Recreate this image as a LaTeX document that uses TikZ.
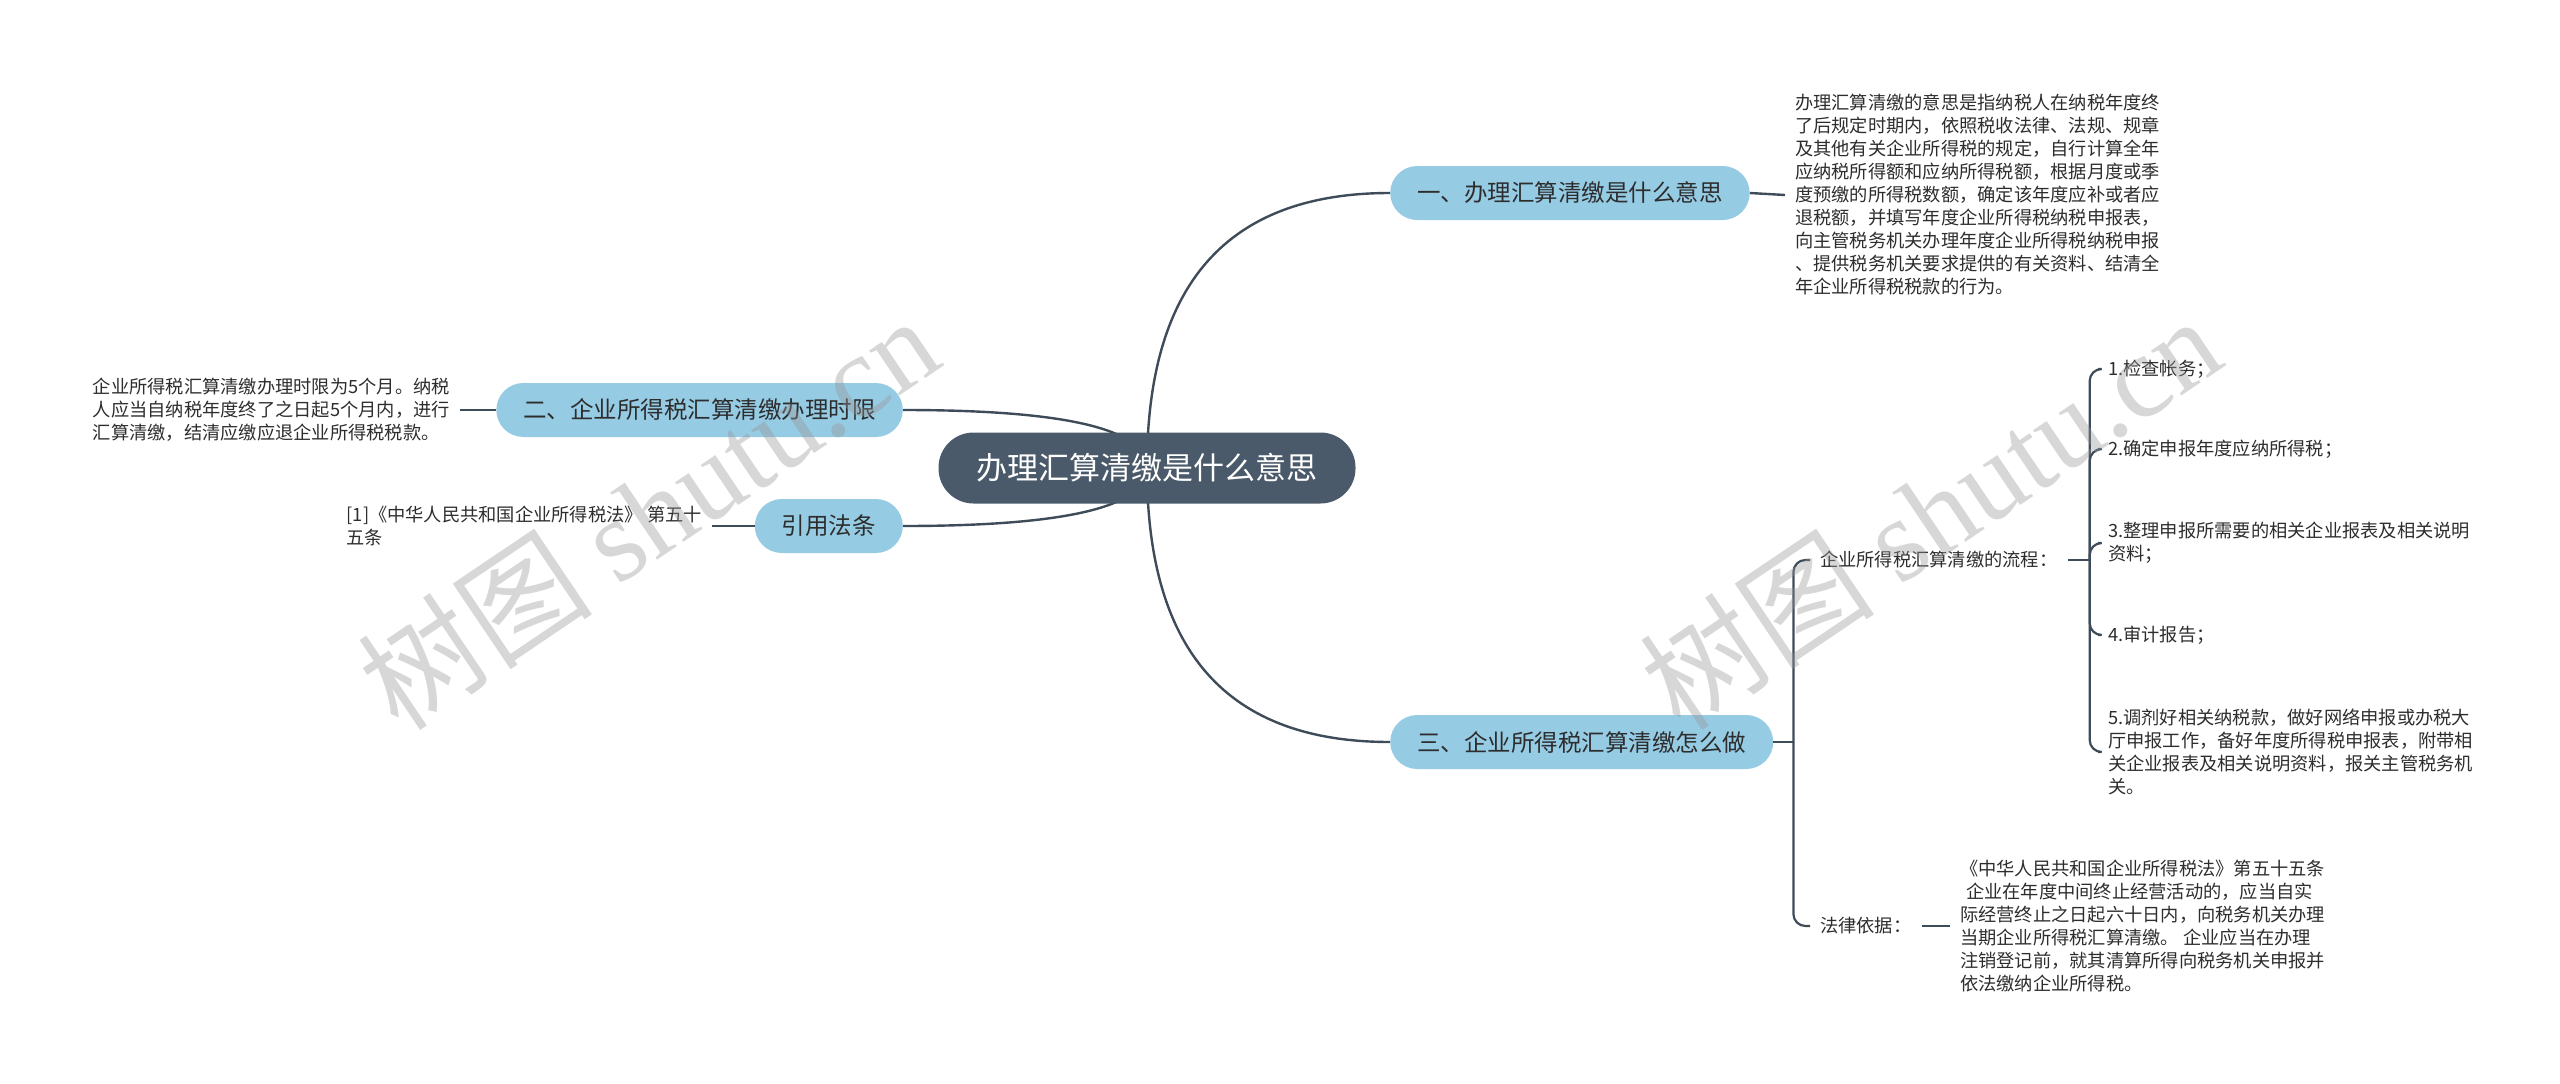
\documentclass[tikz,border=0pt]{standalone}
\usepackage{fontspec}
\setmainfont{Noto Sans CJK SC}
\newfontfamily\wmfont{Liberation Serif}
\usetikzlibrary{calc,backgrounds,positioning}
\definecolor{rootfill}{RGB}{74,90,106}
\definecolor{topicfill}{RGB}{150,203,228}
\definecolor{linkcol}{RGB}{62,75,88}
\definecolor{txtcol}{RGB}{45,45,45}
\definecolor{markcol}{RGB}{150,150,150}

\begin{document}
\begin{tikzpicture}[x=1pt,y=-1pt,
  rootbox/.style={fill=rootfill,text=white,rounded corners=35pt,minimum height=71pt,minimum width=417pt,font=\fontsize{31}{36}\selectfont},
  topic/.style={fill=topicfill,text=txtcol,rounded corners=27pt,minimum height=54pt,inner xsep=27pt,font=\fontsize{23.5}{28}\selectfont},
  note/.style={text=txtcol,align=left,inner xsep=10pt,inner ysep=2pt,font=\fontsize{18.25}{23}\selectfont},
  link/.style={draw=linkcol,line width=2.4pt},
  twig/.style={draw=linkcol,line width=2.2pt,rounded corners=12pt},
  wmark/.style={rotate=34,text=markcol,opacity=.38,font=\fontsize{118}{118}\selectfont}]
\useasboundingbox (0,0) rectangle (2560,1084);

% centre and main topics
\node[rootbox] (root) at (1147,468) {办理汇算清缴是什么意思};
\node[topic,anchor=west] (n1) at (1390,193) {一、办理汇算清缴是什么意思};
\node[topic,anchor=east] (n2) at (903,410) {二、企业所得税汇算清缴办理时限};
\node[topic,anchor=east] (ref) at (903,526) {引用法条};
\node[topic,anchor=west] (n3) at (1390,742) {三、企业所得税汇算清缴怎么做};

\begin{scope}[on background layer]
\foreach \m in {n1,n3}
  \draw[link] (root.center) .. controls ($(root.center)!.67!(root.center|-\m.west)$) and ($(\m.west)!.67!(root.center|-\m.west)$) .. (\m.west);
\foreach \m in {n2,ref}
  \draw[link] (root.center) .. controls ($(root.center)!.67!(root.center|-\m.east)$) and ($(\m.east)!.67!(root.center|-\m.east)$) .. (\m.east);
\end{scope}

% texts of the topics
\node[note,anchor=west] (d1) at (1785,195) {办理汇算清缴的意思是指纳税人在纳税年度终\\了后规定时期内，依照税收法律、法规、规章\\及其他有关企业所得税的规定，自行计算全年\\应纳税所得额和应纳所得税额，根据月度或季\\度预缴的所得税数额，确定该年度应补或者应\\退税额，并填写年度企业所得税纳税申报表，\\向主管税务机关办理年度企业所得税纳税申报\\、提供税务机关要求提供的有关资料、结清全\\年企业所得税税款的行为。};
\node[note,anchor=east] (d2) at (460,410) {企业所得税汇算清缴办理时限为5个月。纳税\\人应当自纳税年度终了之日起5个月内，进行\\汇算清缴，结清应缴应退企业所得税税款。};
\node[note,anchor=east] (dref) at (712,526) {[1]《中华人民共和国企业所得税法》 第五十\\五条};
\draw[link] (n1.east) -- (d1.west);
\draw[link] (n2.west) -- (d2.east);
\draw[link] (ref.west) -- (dref.east);

% how to do it
\node[note,anchor=west] (flow) at (1810,560) {企业所得税汇算清缴的流程：};
\node[note,anchor=west] (law) at (1810,926) {法律依据：};
\node[note,anchor=west] (lawtxt) at (1950,926) {《中华人民共和国企业所得税法》第五十五条\\\hspace*{6pt}企业在年度中间终止经营活动的，应当自实\\际经营终止之日起六十日内，向税务机关办理\\当期企业所得税汇算清缴。 企业应当在办理\\注销登记前，就其清算所得向税务机关申报并\\依法缴纳企业所得税。};
\node[note,anchor=west] (s1) at (2098,369) {1.检查帐务；};
\node[note,anchor=west] (s2) at (2098,449) {2.确定申报年度应纳所得税；};
\node[note,anchor=west] (s3) at (2098,543) {3.整理申报所需要的相关企业报表及相关说明\\资料；};
\node[note,anchor=west] (s4) at (2098,635) {4.审计报告；};
\node[note,anchor=west] (s5) at (2098,752) {5.调剂好相关纳税款，做好网络申报或办税大\\厅申报工作，备好年度所得税申报表，附带相\\关企业报表及相关说明资料，报关主管税务机\\关。};

\draw[link] (n3.east) -- ++(20,0) coordinate (j3);
\foreach \m in {flow,law} \draw[twig] (j3) |- (\m.west);
\draw[link] (flow.east) -- ++(22,0) coordinate (j4);
\foreach \m in {s1,s2,s3,s4,s5} \draw[twig] (j4) |- (\m.west);
\draw[link] (law.east) -- (lawtxt.west);

% watermarks
\node[wmark] (wm1) at (648,512) {树图 {\wmfont shutu.cn}};
\node[wmark] (wm2) at (1930,512) {树图 {\wmfont shutu.cn}};
\end{tikzpicture}
\end{document}
